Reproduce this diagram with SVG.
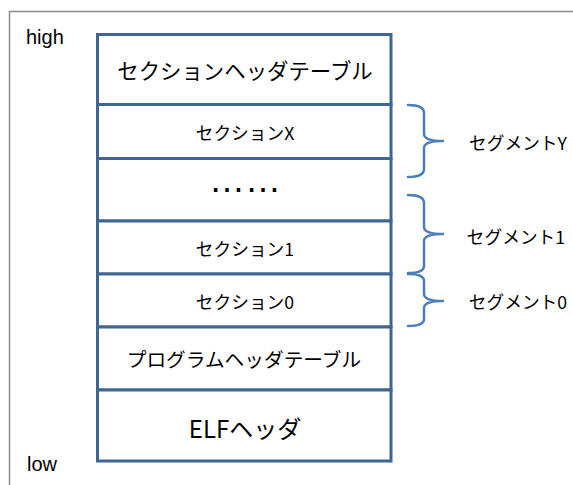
<svg xmlns="http://www.w3.org/2000/svg" width="573" height="485" viewBox="0 0 573 485">
<style>
.frame{fill:none;stroke:#8c8c8c;stroke-width:1.5}
.cell{fill:#ffffff;stroke:#3f6593;stroke-width:3}
.brace{fill:none;stroke:#4a7ebb;stroke-width:2.5;stroke-linecap:round;stroke-linejoin:round}
.jp{font-family:"Noto Sans CJK JP","Noto Sans",sans-serif;fill:#000;text-anchor:middle;dominant-baseline:central}
.lat{font-family:"Liberation Sans","Noto Sans",sans-serif;fill:#000;font-size:20px}
</style>
<rect class="frame" x="9.5" y="11.5" width="600" height="500"/>
<text class="lat" x="26" y="44">high</text>
<text class="lat" x="27" y="471">low</text>
<g id="section-header-table"><rect class="cell" x="97.5" y="34.5" width="293.5" height="70"/><text class="jp" x="245" y="69" font-size="21.4">セクションヘッダテーブル</text></g>
<g id="section-x"><rect class="cell" x="97.5" y="104.5" width="293.5" height="54"/><text class="jp" x="245" y="132" font-size="17.7">セクションX</text></g>
<g id="ellipsis"><rect class="cell" x="97.5" y="158.5" width="293.5" height="62.5"/><text x="245" y="192" font-family="Liberation Sans, sans-serif" font-size="36" text-anchor="middle" fill="#000">……</text></g>
<g id="section-1"><rect class="cell" x="97.5" y="221" width="293.5" height="53"/><text class="jp" x="245" y="248" font-size="17.7">セクション1</text></g>
<g id="section-0"><rect class="cell" x="97.5" y="274" width="293.5" height="53"/><text class="jp" x="245" y="301" font-size="17.7">セクション0</text></g>
<g id="program-header-table"><rect class="cell" x="97.5" y="327" width="293.5" height="63"/><text class="jp" x="244" y="358" font-size="19.7">プログラムヘッダテーブル</text></g>
<g id="elf-header"><rect class="cell" x="97.5" y="390" width="293.5" height="71"/><text class="jp" x="245" y="427" font-size="24">ELFヘッダ</text></g>
<g id="connectors">
<path class="brace" d="M408,105 Q424,105 424,113 V134 Q424,141 443,141 Q424,141 424,148 V169 Q424,177 408,177"/>
<path class="brace" d="M408,195 Q424,195 424,203 V227 Q424,234 443,234 Q424,234 424,241 V266 Q424,273 408,273"/>
<path class="brace" d="M408,274 Q424,274 424,281 V294 Q424,301 443,301 Q424,301 424,308 V319 Q424,326 408,326"/>
</g>
<g id="segment-y"><text class="jp" x="518" y="142" font-size="17.7">セグメントY</text></g>
<g id="segment-1"><text class="jp" x="516" y="236" font-size="17.7">セグメント1</text></g>
<g id="segment-0"><text class="jp" x="518" y="301" font-size="17.7">セグメント0</text></g>
</svg>
